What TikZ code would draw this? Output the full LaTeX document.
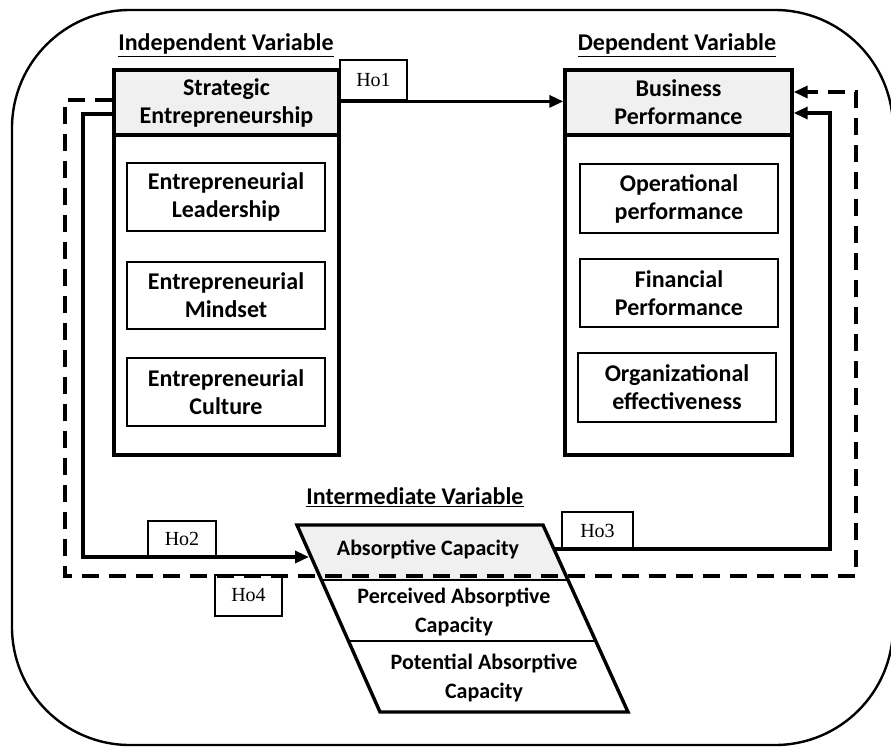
\documentclass[tikz,border=0pt]{standalone}
\usepackage{fontspec}
\usepackage{tikz}
\usetikzlibrary{arrows.meta,calc}
\setmainfont{Carlito}
\newfontfamily\hofont{Liberation Serif}

\begin{document}
\begin{tikzpicture}[x=1pt,y=-1pt,
  txt/.style={font=\bfseries\fontsize{24}{28}\selectfont, align=center, inner sep=0pt},
  smalltxt/.style={font=\bfseries\fontsize{22}{29}\selectfont, align=center, inner sep=0pt},
  varlabel/.style={txt},
  bodybox/.style={draw, line width=3.4pt, inner sep=0pt},
  headbox/.style={txt, draw, line width=3.4pt, fill=gray!12},
  subbox/.style={txt, draw, line width=2.3pt},
  hobox/.style={draw, fill=white, line width=2.8pt, inner sep=0pt,
    font=\hofont\fontsize{20}{24}\selectfont},
  link/.style={line width=3.3pt, -{Triangle[length=14pt,width=12pt]}},
  dlink/.style={link, line width=3.6pt, dash pattern=on 17pt off 10pt}]
\useasboundingbox (0,0) rectangle (891,748);
% outer frame
\draw[line width=2.4pt, rounded corners=118pt] (12,10) rectangle (893,745);

% independent variable
\node[varlabel] (indeplbl) at (226,45) {\underline{Independent Variable}};
\node[bodybox, minimum width=225, minimum height=385] (indep) at (226.5,262.5) {};
\node[headbox, minimum width=225, minimum height=65] (strat) at (226.5,102.5) {Strategic\\Entrepreneurship};
\node[subbox, minimum width=198, minimum height=68] (lead) at (226,197) {Entrepreneurial\\Leadership};
\node[subbox, minimum width=198, minimum height=67] (mind) at (226,295.5) {Entrepreneurial\\Mindset};
\node[subbox, minimum width=198, minimum height=68] (cult) at (226,392) {Entrepreneurial\\Culture};

% dependent variable
\node[varlabel] (deplbl) at (677,45) {\underline{Dependent Variable}};
\node[bodybox, minimum width=227, minimum height=385] (dep) at (678.5,262.5) {};
\node[headbox, minimum width=227, minimum height=65] (biz) at (678.5,102.5) {Business\\Performance};
\node[subbox, minimum width=198, minimum height=69] (oper) at (679,198.5) {Operational\\performance};
\node[subbox, minimum width=198, minimum height=68] (fin) at (679,293) {Financial\\Performance};
\node[subbox, minimum width=198, minimum height=69] (org) at (677,387.5) {Organizational\\effectiveness};

% intermediate variable
\node[varlabel] (intlbl) at (415,497) {\underline{Intermediate Variable}};
\coordinate (ac-nw) at (297,525);
\coordinate (ac-ne) at (543,525);
\coordinate (ac-se) at (628,712);
\coordinate (ac-sw) at (380,712);
\fill[gray!12] (ac-nw) -- (ac-ne) -- ($(ac-ne)!0.294!(ac-se)$) -- ($(ac-nw)!0.294!(ac-sw)$) -- cycle;
\draw[line width=2pt] ($(ac-nw)!0.294!(ac-sw)$) -- ($(ac-ne)!0.294!(ac-se)$)
  ($(ac-nw)!0.62!(ac-sw)$) -- ($(ac-ne)!0.62!(ac-se)$);
\draw[line width=3.4pt, line join=miter] (ac-nw) -- (ac-ne) -- (ac-se) -- (ac-sw) -- cycle;
\node[smalltxt] (absorb) at (428,549) {Absorptive Capacity};
\node[smalltxt] (perc) at (454,612) {Perceived Absorptive\\Capacity};
\node[smalltxt] (pot) at (484,678) {Potential Absorptive\\Capacity};

% hypotheses
\node[hobox, minimum width=67, minimum height=40] (ho1) at (373.5,80) {Ho1};
\node[hobox, minimum width=68, minimum height=36] (ho2) at (182,539) {Ho2};
\node[hobox, minimum width=71, minimum height=37] (ho3) at (597.5,530.5) {Ho3};
\node[hobox, minimum width=67, minimum height=41] (ho4) at (248.5,595.5) {Ho4};

\coordinate (ho2end) at (309,557);
\coordinate (ho3start) at (553,549);
\draw[link] (strat.east |- ho1.south) -- (biz.west |- ho1.south);
\draw[link] (strat.west |- 0,114) -- (83,114) -- (83,557) -- (ho2end);
\draw[link] (ho3start) -- (830,549) -- (830,113) -- (biz.east |- 0,113);
\draw[dlink] (strat.west |- 0,100) -- (65,100) -- (65,576) -- (856,576) -- (856,92) -- (biz.east |- 0,92);
\end{tikzpicture}
\end{document}
